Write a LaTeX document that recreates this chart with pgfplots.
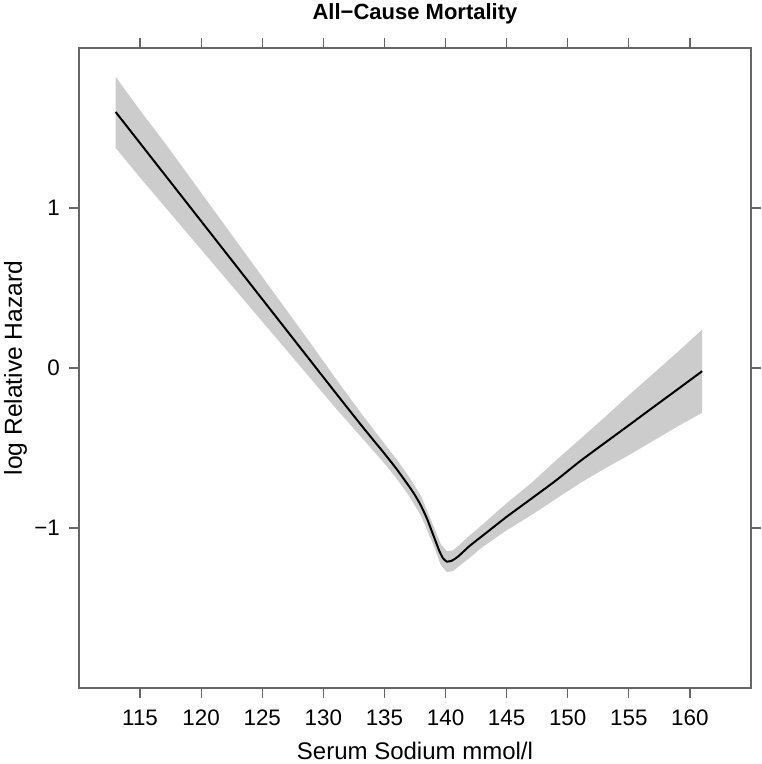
\documentclass[border=0pt]{standalone}
\usepackage{fontspec}
\setmainfont{Liberation Sans}
\usepackage{pgfplots}
\pgfplotsset{compat=1.18}
\usepgfplotslibrary{fillbetween}

\pgfplotstableread{
x lo hi
113 1.375 1.820
115 1.190 1.610
117 1.010 1.410
119 0.830 1.200
121 0.650 0.990
123 0.470 0.780
125 0.290 0.570
127 0.110 0.360
129 -0.070 0.150
131 -0.250 -0.065
133 -0.423 -0.273
134 -0.510 -0.374
135 -0.597 -0.473
136 -0.692 -0.572
137 -0.798 -0.678
138 -0.924 -0.800
139 -1.105 -0.985
139.6 -1.230 -1.100
140.1 -1.275 -1.145
140.6 -1.270 -1.140
141 -1.245 -1.115
142 -1.185 -1.045
143 -1.120 -0.980
145 -1.015 -0.845
147 -0.920 -0.720
149 -0.820 -0.580
151 -0.720 -0.445
153 -0.630 -0.310
155 -0.545 -0.170
157 -0.455 -0.035
159 -0.365 0.100
161 -0.280 0.240
}\band

\pgfplotstableread{
x y
113 1.600
115 1.405
117 1.210
119 1.015
121 0.820
123 0.625
125 0.430
127 0.235
129 0.040
131 -0.155
133 -0.348
134 -0.442
135 -0.535
136 -0.632
137 -0.738
137.5 -0.795
138 -0.862
138.5 -0.945
139 -1.045
139.5 -1.145
139.8 -1.190
140.1 -1.210
140.5 -1.205
141 -1.180
141.5 -1.145
142 -1.110
143 -1.050
144 -0.990
145 -0.930
147 -0.818
149 -0.705
151 -0.583
153 -0.470
155 -0.358
157 -0.245
159 -0.133
161 -0.020
}\fit

\begin{document}
\begin{tikzpicture}
\begin{axis}[
  scale only axis,
  width=336pt, height=320pt,
  xmin=110, xmax=165, ymin=-2, ymax=2,
  xtick={115,120,...,160},
  ytick={-1,0,1},
  yticklabels={−1,0,1},
  tick align=outside,
  major tick length=5pt,
  every tick/.style={black!60, line width=0.6pt},
  axis line style={black!60, line width=0.6pt},
  /pgf/number format/assume math mode=true,
  ticklabel style={font=\fontsize{11.2}{13}\selectfont},
  xticklabel style={anchor=base, yshift=-14pt},
  yticklabel style={anchor=east, xshift=-1pt},
  title={\textbf{All−Cause Mortality}},
  every axis title shift=0pt,
  title style={at={(axis description cs:0.5,1.04375)}, anchor=base, font=\fontsize{11}{13}\selectfont},
  xlabel={Serum Sodium mmol/l},
  ylabel={log Relative Hazard},
  xlabel style={at={(axis description cs:0.5,-0.111)}, anchor=base, font=\fontsize{12}{14}\selectfont},
  ylabel style={at={(axis description cs:-0.085,0.5)}, anchor=base, rotate=0, font=\fontsize{12.3}{14}\selectfont},
]
\addplot[name path=lo, draw=none, forget plot] table[x=x, y=lo] {\band};
\addplot[name path=hi, draw=none, forget plot] table[x=x, y=hi] {\band};
\addplot[fill=black!20, draw=none] fill between[of=lo and hi];
\addplot[black, line width=1pt, smooth, tension=0.3] table[x=x, y=y] {\fit};
\end{axis}
\pgfresetboundingbox
\path ([shift={(-39.5pt,-38pt)}]current axis.south west) rectangle ([shift={(5.5pt,24pt)}]current axis.north east);
\end{tikzpicture}
\end{document}
